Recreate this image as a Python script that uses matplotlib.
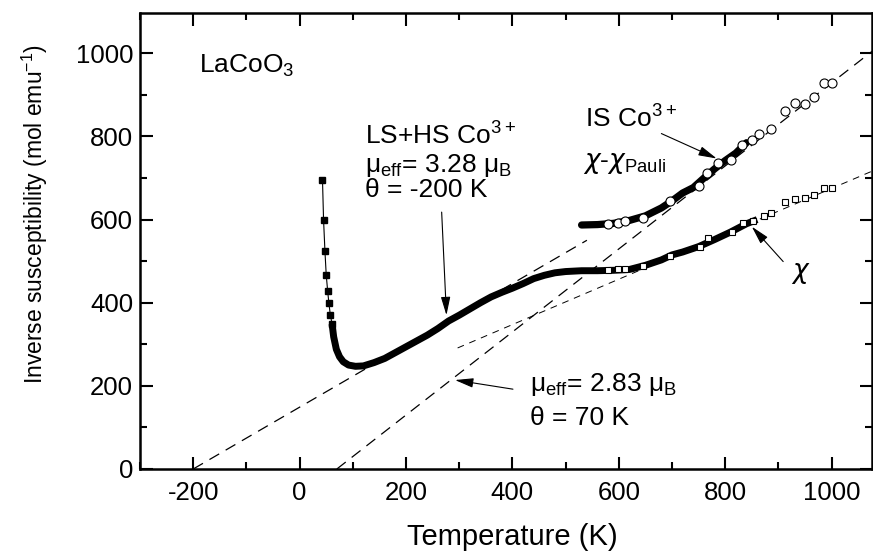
import numpy as np
import matplotlib.pyplot as plt

plt.rcParams['font.family'] = ['Liberation Sans', 'DejaVu Sans']
plt.rcParams['mathtext.fontset'] = 'custom'
plt.rcParams['mathtext.rm'] = 'Liberation Sans'
plt.rcParams['mathtext.it'] = 'DejaVu Sans:italic'
plt.rcParams['mathtext.sf'] = 'Liberation Sans'
plt.rcParams['axes.unicode_minus'] = False

# inverse susceptibility 1/chi (mol/emu), low-T points shown one by one
T_low = [43, 45, 47.6, 50, 52.7, 55, 57.7, 61]
inv_low = [695, 599, 524, 467, 428, 399, 371, 349]

# dense run of 1/chi
T_chi = [61, 64, 69, 75, 82, 92, 105, 120, 140, 160, 180, 200, 220, 240, 260,
         280, 300, 320, 340, 360, 380, 400, 420, 440, 460, 480, 500, 530, 560,
         590, 620, 650, 680, 700, 720, 750, 780, 810, 840, 860]
inv_chi = [349, 318, 288, 270, 258, 250, 247, 248, 256, 266, 280, 294, 308, 322,
           338, 356, 370, 385, 400, 414, 425, 435, 446, 458, 466, 472, 475, 477,
           477, 478, 480, 490, 503, 515, 522, 535, 552, 570, 590, 600]

# sparse high-T 1/chi (open squares)
T_chi_hi = [580, 599, 611, 646, 696, 753, 768, 812, 834, 852, 872, 887, 913, 931,
            950, 967, 986, 1001]
inv_chi_hi = [479, 480, 481, 488, 513, 535, 555, 571, 593, 597, 609, 617, 642,
              650, 651, 660, 677, 677]

# 1/(chi - chi_Pauli), dense run and sparse points
T_pauli = [530, 560, 590, 620, 650, 680, 700, 720, 740, 760, 780, 800, 820, 840]
inv_pauli = [587, 588, 591, 598, 609, 628, 645, 664, 677, 700, 722, 742, 760, 785]
T_pauli_hi = [580, 599, 611, 646, 696, 750, 765, 787, 810, 831, 850, 864, 886,
              912, 932, 950, 967, 986, 1001]
inv_pauli_hi = [589, 593, 597, 605, 645, 681, 711, 735, 743, 779, 792, 805, 818,
                862, 880, 877, 895, 929, 929]

# Curie-Weiss fits: (mu_eff in mu_B, theta in K, T range)
fit_lshs = (3.28, -200, -200, 540)
fit_is = (2.83, 70, 70, 1080)
# straight line through the high-T part of 1/chi (intercept, slope, T range)
fit_chi = (129, 0.546, 297, 1080)


def curie_weiss(T, mu, theta):
    # 1/chi = 8 (T - theta) / mu_eff^2
    return 8.0 * (np.asarray(T) - theta) / mu ** 2


fig = plt.figure(figsize=(8.73, 5.52), dpi=100)
ax = fig.add_axes([0.1604, 0.1504, 0.8385, 0.826])

mu, th, t0, t1 = fit_lshs
tt = np.array([t0, t1])
ax.plot(tt, curie_weiss(tt, mu, th), color='k', lw=0.9, dashes=(9, 6))
mu, th, t0, t1 = fit_is
tt = np.array([t0, t1])
ax.plot(tt, curie_weiss(tt, mu, th), color='k', lw=0.9, dashes=(9, 6))
b, m, t0, t1 = fit_chi
tt = np.array([t0, t1])
ax.plot(tt, b + m * tt, color='k', lw=0.7, dashes=(7, 6))

ax.plot(T_low, inv_low, '-s', color='k', lw=0.8, ms=5)
ax.plot(T_chi, inv_chi, '-', color='k', lw=5, solid_capstyle='butt',
        solid_joinstyle='round')
ax.plot(T_chi_hi, inv_chi_hi, 's', mfc='white', mec='k', mew=0.8, ms=5)

ax.plot(T_pauli, inv_pauli, '-', color='k', lw=5.2, solid_capstyle='round',
        solid_joinstyle='round')
ax.plot(T_pauli_hi, inv_pauli_hi, 'o', mfc='white', mec='k', mew=0.8, ms=6.5)

ax.set_xlim(-300, 1076)
ax.set_ylim(0, 1097)
ax.set_xticks([-200, 0, 200, 400, 600, 800, 1000])
ax.set_xticks(np.arange(-300, 1100, 100), minor=True)
ax.set_yticks([0, 200, 400, 600, 800, 1000])
ax.set_yticks(np.arange(0, 1100, 100), minor=True)
ax.tick_params(which='both', direction='in', top=True, right=True, width=1.5,
               labelsize=18.5)
ax.tick_params(which='major', length=9)
ax.tick_params(which='minor', length=5)
ax.tick_params(axis='x', pad=9)
ax.tick_params(axis='y', pad=5)
for s in ax.spines.values():
    s.set_linewidth(1.8)

ax.set_xlabel('Temperature (K)', fontsize=21, labelpad=10)
ax.xaxis.set_label_coords(0.508, -0.118)
ax.set_ylabel('Inverse susceptibility (mol emu$^{-1}$)', fontsize=16.5)
ax.yaxis.set_label_coords(-0.123, 0.56)

txt = dict(fontsize=19, color='k', va='baseline', ha='left')
ax.text(-190, 953, 'LaCoO$_3$', **txt)
ax.text(122, 784, 'LS+HS Co$^{3+}$', **txt)
ax.text(122, 714, 'μ$_{\\rm eff}$= 3.28 μ$_{\\rm B}$', **txt)
ax.text(122, 655, 'θ = -200 K', **txt)
ax.text(536, 823, 'IS Co$^{3+}$', **txt)
ax.text(532, 724, '$\\chi$-$\\chi_{\\rm Pauli}$', **txt)
ax.text(923, 459, '$\\chi$', **txt)
ax.text(433, 188, 'μ$_{\\rm eff}$= 2.83 μ$_{\\rm B}$', **txt)
ax.text(433, 106, 'θ = 70 K', **txt)

arrow = dict(arrowstyle='-|>,head_length=0.7,head_width=0.18', color='k',
             lw=0.8, shrinkA=0, shrinkB=0, mutation_scale=16)
ax.annotate('', xy=(276, 370), xytext=(267, 618), arrowprops=arrow)
ax.annotate('', xy=(784, 747), xytext=(680, 807), arrowprops=arrow)
ax.annotate('', xy=(850, 583), xytext=(909, 499), arrowprops=arrow)
ax.annotate('', xy=(292, 214), xytext=(401, 192), arrowprops=arrow)

fig.savefig('out.png', dpi=100)
